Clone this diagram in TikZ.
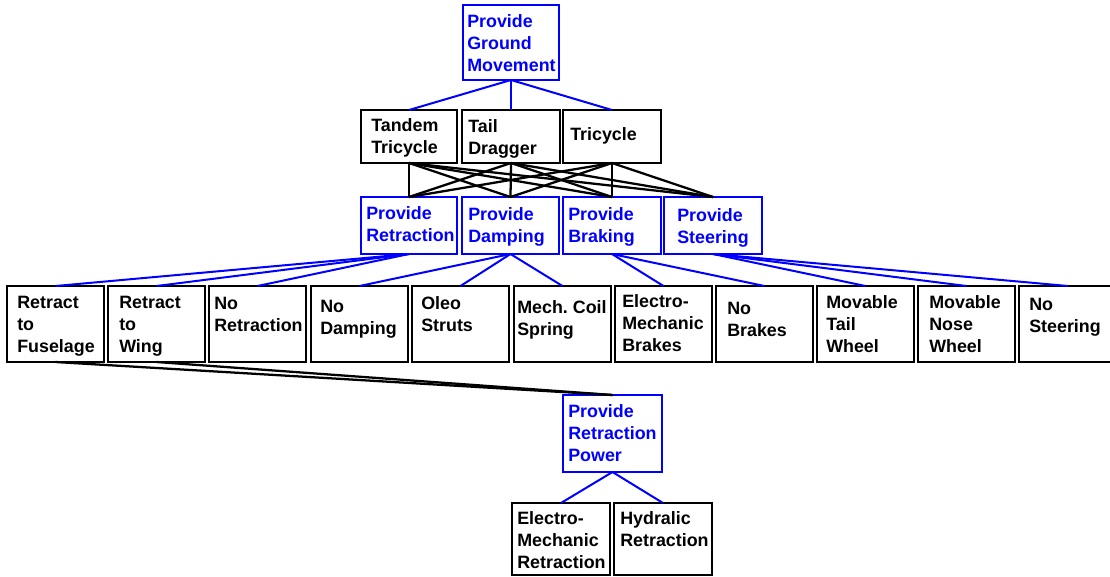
\documentclass[tikz,border=0pt]{standalone}
\usepackage{fontspec}
\setmainfont{Liberation Sans}
\usetikzlibrary{fit}
\definecolor{pblue}{RGB}{0,0,255}
\tikzset{
  boxst/.style={line width=1.5pt, inner sep=0pt, outer sep=0pt},
  txtst/.style={font=\fontsize{13.4}{16.5}\selectfont\bfseries, inner sep=0pt},
  bl/.style={draw=pblue, line width=1.5pt},
  bk/.style={draw=black, line width=1.7pt}
}
\newcommand{\mybox}[9]{%
  \node[boxst, draw=#2, fit={(#3,#4)(#5,#6)}] (#1) {};
  \node[txtst, text=#2, anchor=base west] (#1t) at (#7,#8)
    {\begin{tabular}[t]{@{}l@{}}#9\end{tabular}};}
\begin{document}
\begin{tikzpicture}[x=0.75pt, y=-0.75pt]
\clip (0,0) rectangle (1110,576);
\fill[white] (0,0) rectangle (1110,576);
% level 0
\mybox{top}{pblue}{463}{5}{559}{80}{467}{27}{Provide\\Ground\\Movement}
% level 1
\mybox{tandem}{black}{361}{110}{457}{163}{371}{131}{Tandem\\Tricycle}
\mybox{tail}{black}{462}{110}{560}{163}{468}{132}{Tail\\Dragger}
\mybox{tri}{black}{563}{110}{661}{163}{570}{140}{Tricycle}
% level 2
\mybox{pret}{pblue}{361}{197}{457}{254}{366}{219}{Provide\\Retraction}
\mybox{pdamp}{pblue}{462}{197}{559}{254}{468}{220}{Provide\\Damping}
\mybox{pbrake}{pblue}{563}{197}{661}{254}{568}{220}{Provide\\Braking}
\mybox{psteer}{pblue}{664}{197}{762}{254}{677}{221}{Provide\\Steering}
% level 3
\mybox{fus}{black}{7}{286}{104}{362}{17}{308}{Retract\\to\\Fuselage}
\mybox{wing}{black}{108}{286}{205}{362}{119}{308}{Retract\\to\\Wing}
\mybox{noret}{black}{209}{286}{306}{362}{214}{309}{No\\Retraction}
\mybox{nodamp}{black}{311}{286}{408}{362}{320}{312}{No\\Damping}
\mybox{oleo}{black}{412}{286}{509}{362}{421}{309}{Oleo\\Struts}
\mybox{mech}{black}{514}{286}{611}{362}{517}{313}{Mech.\ Coil\\Spring}
\mybox{elbr}{black}{615}{286}{712}{362}{622}{307}{Electro-\\Mechanic\\Brakes}
\mybox{nobr}{black}{716}{286}{813}{362}{727}{314}{No\\Brakes}
\mybox{tailw}{black}{817}{286}{914}{362}{826}{308}{Movable\\Tail\\Wheel}
\mybox{nosew}{black}{918}{286}{1015}{362}{929}{308}{Movable\\Nose\\Wheel}
\mybox{nost}{black}{1019}{286}{1117}{362}{1029}{310}{No\\Steering}
% level 4
\mybox{rpow}{pblue}{563}{395}{662}{472}{568}{417}{Provide\\Retraction\\Power}
% level 5
\mybox{emr}{black}{512}{503}{610}{575}{517}{524}{Electro-\\Mechanic\\Retraction}
\mybox{hyd}{black}{614}{503}{712}{575}{620}{524}{Hydralic\\Retraction}
% connectors
\foreach \b in {tandem,tail,tri} \draw[bl] (top.south) -- (\b.north);
\foreach \a in {tandem,tail,tri}
  \foreach \b in {pret,pdamp,pbrake,psteer} \draw[bk] (\a.south) -- (\b.north);
\foreach \b in {fus,wing,noret} \draw[bl] (pret.south) -- (\b.north);
\foreach \b in {nodamp,oleo,mech} \draw[bl] (pdamp.south) -- (\b.north);
\foreach \b in {elbr,nobr} \draw[bl] (pbrake.south) -- (\b.north);
\foreach \b in {tailw,nosew,nost} \draw[bl] (psteer.south) -- (\b.north);
\foreach \b in {fus,wing} \draw[bk] (\b.south) -- (rpow.north);
\foreach \b in {emr,hyd} \draw[bl] (rpow.south) -- (\b.north);
\end{tikzpicture}
\end{document}
